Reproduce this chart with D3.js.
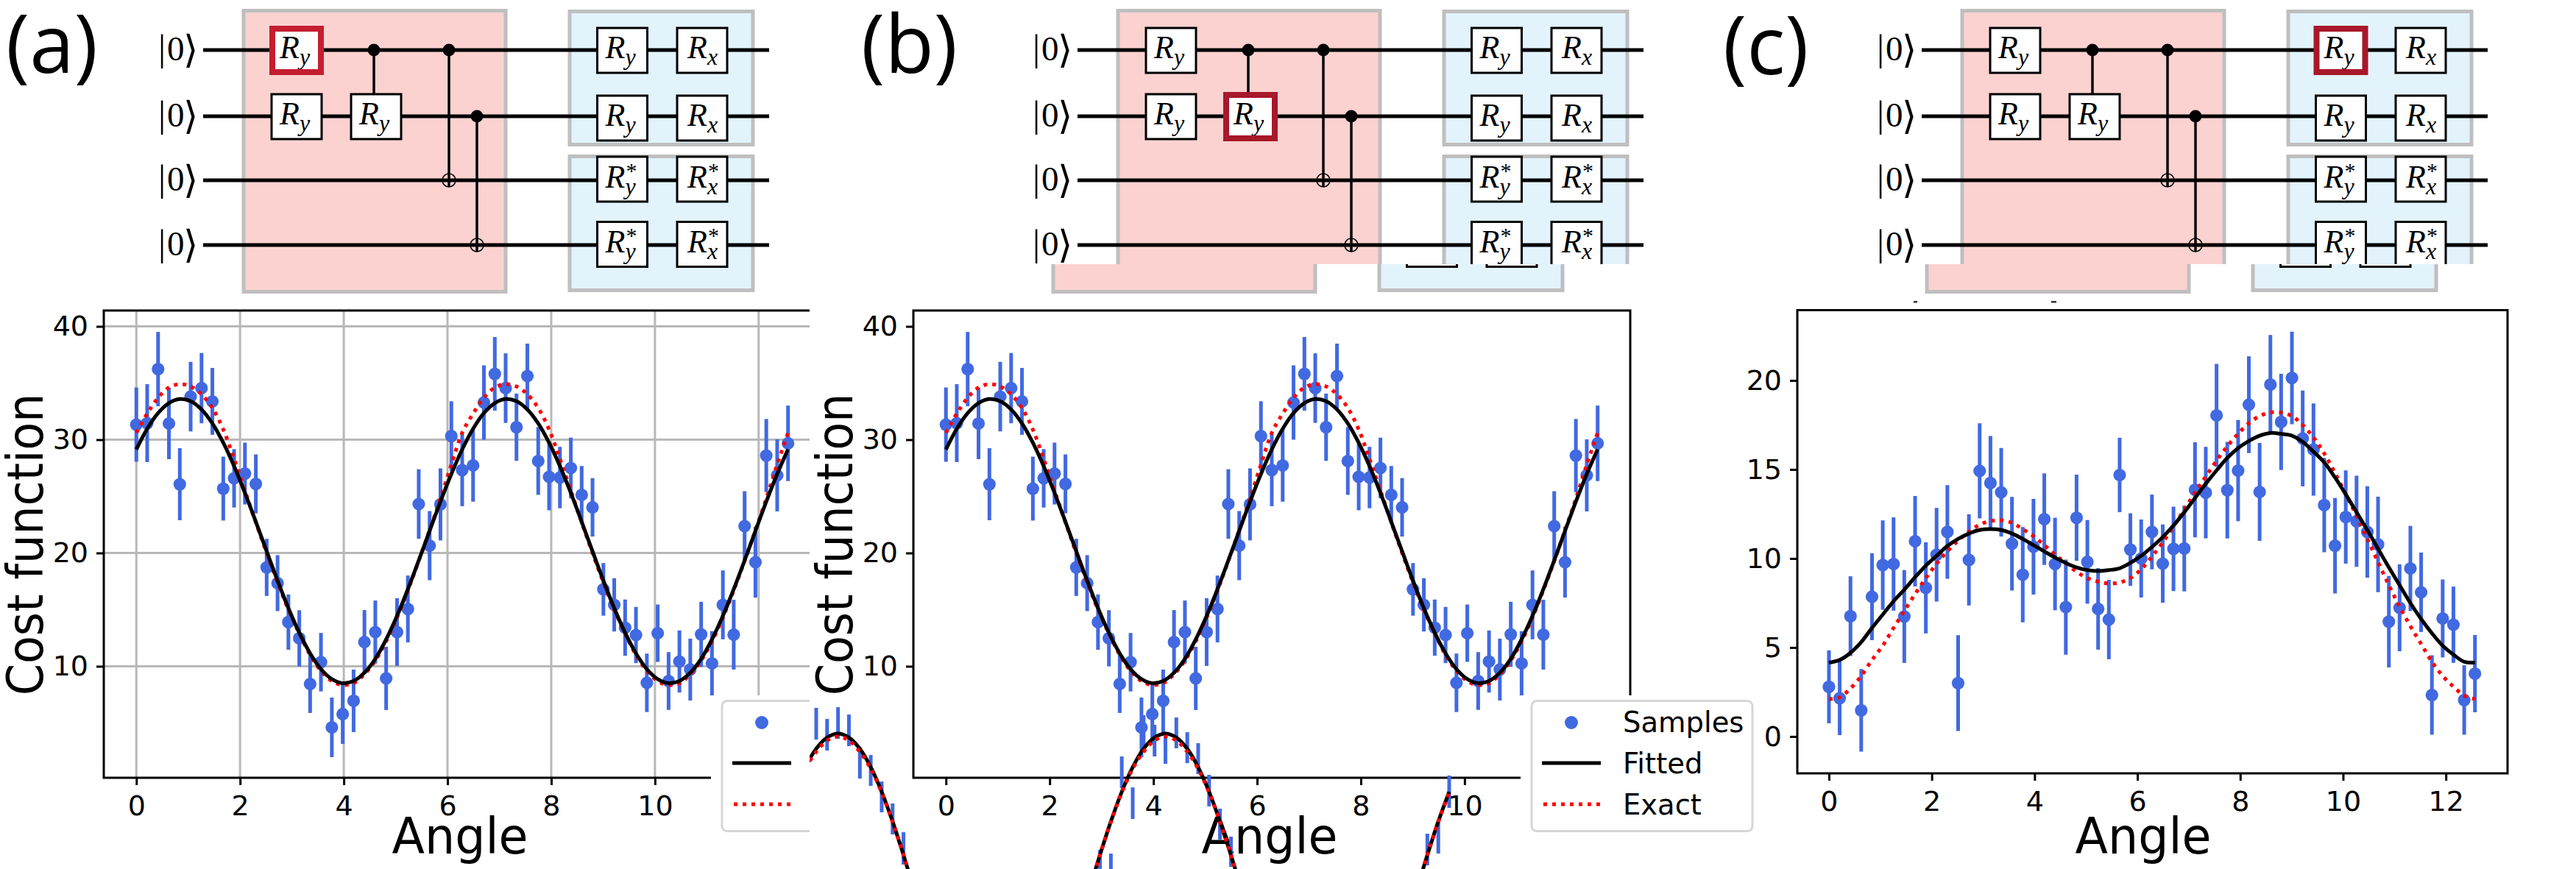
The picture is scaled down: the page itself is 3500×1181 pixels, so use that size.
<!DOCTYPE html>
<html><head><meta charset="utf-8">
<style>html,body{margin:0;padding:0;background:#fff}svg{display:block}</style>
<script src="https://cdn.jsdelivr.net/npm/d3@7/dist/d3.min.js"></script></head>
<body><svg id="c" width="3500" height="1181" xmlns="http://www.w3.org/2000/svg"></svg>
<script>
const angles=[0,0.209,0.419,0.628,0.838,1.047,1.257,1.466,1.676,1.885,2.094,2.304,2.513,2.723,2.932,3.142,3.351,3.56,3.77,3.979,4.189,4.398,4.608,4.817,5.027,5.236,5.445,5.655,5.864,6.074,6.283,6.493,6.702,6.912,7.121,7.33,7.54,7.749,7.959,8.168,8.378,8.587,8.796,9.006,9.215,9.425,9.634,9.844,10.053,10.263,10.472,10.681,10.891,11.1,11.31,11.519,11.729,11.938,12.147,12.357,12.566];
const samplesAB=[31.33,31.46,36.23,31.43,26.07,33.8,34.55,33.38,25.68,26.59,27.01,26.1,18.73,17.34,13.9,12.47,8.44,10.36,4.61,5.78,6.95,12.14,13.02,8.93,13.02,15.06,24.32,20.65,24.29,30.32,27.31,27.73,33.28,35.81,34.55,31.1,35.62,28.12,26.72,26.66,27.5,25.13,24.03,16.79,15.42,13.41,12.76,8.54,12.92,8.7,10.42,9.71,12.82,10.26,15.42,12.79,22.37,19.19,28.6,26.85,29.68];
const errorsAB=[3.28,3.44,3.28,3.15,3.18,3.07,3.1,2.95,2.82,2.58,2.73,2.6,2.52,2.47,2.44,2.48,2.56,2.58,2.63,2.63,2.76,2.82,2.78,2.79,2.99,2.95,3.07,3.05,3.18,3.07,3.18,3.2,3.28,3.25,3.07,2.97,2.86,2.99,2.95,2.71,2.68,2.55,2.58,2.32,2.35,2.48,2.48,2.58,2.53,2.55,2.74,2.73,2.87,2.84,3.04,3.08,3.08,3.13,3.23,3.18,3.33];
const fittedAB=[29.14,30.96,32.35,33.23,33.59,33.4,32.67,31.44,29.73,27.66,25.3,22.76,20.15,17.56,15.13,12.96,11.14,9.75,8.87,8.51,8.7,9.43,10.66,12.37,14.44,16.8,19.34,21.95,24.54,26.97,29.14,30.96,32.35,33.23,33.59,33.4,32.67,31.44,29.73,27.66,25.3,22.76,20.15,17.56,15.13,12.96,11.14,9.75,8.87,8.51,8.7,9.43,10.66,12.37,14.44,16.8,19.34,21.95,24.54,26.97,29.14];
const exactAB=[30.6,32.3,33.7,34.6,34.9,34.7,34,32.8,30.9,28.3,25.5,22.7,20,17.4,15,12.9,11,9.6,8.7,8.35,8.5,9.3,10.5,12.2,14.3,16.7,19.3,22,24.8,27.8,30.6,32.3,33.7,34.6,34.9,34.7,34,32.8,30.9,28.3,25.5,22.7,20,17.4,15,12.9,11,9.6,8.7,8.35,8.5,9.3,10.5,12.2,14.3,16.7,19.3,22,24.8,27.8,30.6];
const samplesC=[2.79,2.15,6.76,1.47,7.85,9.63,9.69,6.74,10.97,8.35,10.21,11.49,3,9.92,14.92,14.24,13.72,10.83,9.09,10.66,12.21,9.69,7.27,12.29,9.81,7.17,6.57,14.69,10.5,10,11.49,9.71,10.54,10.56,13.86,13.7,18.04,13.84,14.94,18.64,13.74,19.77,17.67,20.14,16.74,16.12,13,10.72,12.33,12.09,11.49,10.79,6.45,7.23,9.44,8.1,2.33,6.63,6.28,2.05,3.53];
const errorsC=[2.05,2.07,2.24,2.32,2.44,2.51,2.62,2.61,2.54,2.56,2.63,2.63,2.69,2.56,2.67,2.64,2.49,2.63,2.68,2.69,2.57,2.6,2.67,2.42,2.35,2.29,2.23,2.09,2.04,2.19,2.1,2.2,2.37,2.41,2.67,2.57,2.89,2.71,2.84,2.72,2.75,2.79,2.7,2.6,2.69,2.59,2.65,2.68,2.62,2.56,2.57,2.68,2.57,2.44,2.39,2.23,2.23,2.19,2.14,1.95,2.17];
const fittedC=[4.15,4.3,4.7,5.3,6.1,6.85,7.6,8.25,8.95,9.6,10.15,10.7,11.1,11.4,11.6,11.65,11.6,11.4,11.1,10.75,10.4,10.05,9.75,9.5,9.35,9.3,9.35,9.45,9.75,10.15,10.65,11.2,11.85,12.6,13.4,14.2,14.95,15.65,16.2,16.6,16.9,17.05,17,16.9,16.55,16,15.4,14.55,13.6,12.6,11.6,10.55,9.5,8.5,7.5,6.6,5.8,5.1,4.6,4.2,4.15];
const exactC=[2.1,2.2,2.7,3.4,4.3,5.1,6.1,7.05,8,8.9,9.7,10.4,11,11.5,11.9,12.1,12.15,12,11.65,11.25,10.75,10.2,9.75,9.25,8.9,8.7,8.6,8.65,8.9,9.4,10.1,10.9,11.8,12.75,13.7,14.6,15.5,16.3,17,17.6,18,18.2,18.2,18,17.5,16.8,15.9,14.8,13.6,12.4,11.1,9.8,8.5,7.3,6.2,5.2,4.2,3.4,2.8,2.3,2.1];
// the stray overlay seen across panel (b)
const strayFitted=[28.47,30.64,32.27,33.26,33.6,33.26,32.27,30.64,28.47,25.85,22.89,19.73,16.5,13.31,10.35,7.73,5.56,3.95,2.94,2.6,2.94,3.95,5.56,7.73,10.35,13.31,16.5,19.73,22.89,25.85,28.47,30.64,32.27,33.26,33.6,33.26,32.27,30.64,28.47,25.85,22.89,19.73,16.5,13.31,10.35,7.73,5.56,3.95,2.94,2.6,2.94,3.95,5.56,7.73,10.35,13.31,16.5,19.73,22.89,25.85,28.47];
const strayExact=[28.4,30.5,32,33,33.35,33,32,30.5,28.4,25.8,22.9,19.7,16.5,13.3,10.3,7.7,5.5,3.9,2.9,2.6,2.9,3.9,5.5,7.7,10.3,13.3,16.5,19.7,22.9,25.8,28.4,30.5,32,33,33.35,33,32,30.5,28.4,25.8,22.9,19.7,16.5,13.3,10.3,7.7,5.5,3.9,2.9,2.6,2.9,3.9,5.5,7.7,10.3,13.3,16.5,19.7,22.9,25.8,28.4];
const strayBarIndex=[2,3,4,5,6,7,8,9,10,28,29,30,31,32,33,34,35,36,37,38,39,40,58,59,60];
const strayBarTop=[35.88,34.9,35.94,35.29,32.37,31.72,29.38,27.44,24.9,23.34,23.02,31.59,28.86,35.23,34.38,33.73,35.03,33.73,32.76,29.97,26.98,24.51,24.77,25.81,29.91];
const strayBarBottom=[33.08,32.11,33.15,32.5,29.64,28.99,26.66,24.71,22.05,20.55,20.23,28.8,26.07,32.31,31.59,30.94,32.31,31,30.03,27.18,24.25,21.85,21.98,23.02,27.05];
const xTicksA=[0,2,4,6,8,10,12];
const yTicksAB=[10,20,30,40];
const yTicksC=[0,5,10,15,20];
const legendLabels=["Samples","Fitted","Exact"];
const panelLetters=["(a)","(b)","(c)"];

const BLUE="#4169e1", SANS="'DejaVu Sans'", SERIF="'Liberation Serif'";
const svg=d3.select("#c");
const defs=svg.append("defs");
function clip(id,x,y,w,h){defs.append("clipPath").attr("id",id).append("rect").attr("x",x).attr("y",y).attr("width",w).attr("height",h);}
clip("clipA",0,405,1100,776);
clip("clipB",1100,405,1300,776);
clip("clipStray",1100,930,900,251);
clip("topStrip",-100,0,1300,359);
clip("lowStrip",-100,359,1300,41);

// ---------- circuits
const wireY=[68,158,245,333];
const colX=[403,511,845.5,954];
function gate(g,cx,cy,sub,star){
  g.append("rect").attr("x",cx-34).attr("y",cy-30.5).attr("width",68).attr("height",61).attr("fill","#fff").attr("stroke","#000").attr("stroke-width",3);
  const ox=sub==="x"?-20:-23, R=star?11:10;
  const t=g.append("text").attr("x",cx+ox).attr("y",cy+R).attr("font-family",SERIF).attr("font-style","italic").attr("fill","#000");
  t.append("tspan").attr("font-size",44).text("R");
  t.append("tspan").attr("font-size",32).attr("x",cx+ox+27).attr("dy",9).text(sub);
  if(star) t.append("tspan").attr("font-size",30).attr("font-style","normal").attr("x",cx+ox+28).attr("dy",-22).text("*");
}
function circuit(g,hi){
  const box=(x,y,w,h,f)=>g.append("rect").attr("x",x).attr("y",y).attr("width",w).attr("height",h).attr("fill",f).attr("stroke","#bfbfbf").attr("stroke-width",5);
  box(331,14.5,356,382,"#fbd2d0");
  box(774,15.5,249,181,"#e2f3fc");
  box(774,212.5,249,182,"#e2f3fc");
  wireY.forEach(y=>{
    g.append("line").attr("x1",276).attr("x2",1045).attr("y1",y).attr("y2",y).attr("stroke","#000").attr("stroke-width",5);
    const k=g.append("text").attr("y",y+13.5).attr("fill","#000");
    k.append("tspan").attr("x",215).attr("font-family",SERIF).attr("font-size",51).text("|");
    k.append("tspan").attr("x",227).attr("font-family",SERIF).attr("font-size",47).text("0");
    k.append("tspan").attr("x",249).attr("font-family",SANS).attr("font-size",52).attr("dy",3).text("\u27e9");
  });
  const v=(x,a,b)=>g.append("line").attr("x1",x).attr("x2",x).attr("y1",a).attr("y2",b).attr("stroke","#000").attr("stroke-width",3.5);
  v(508,68,128); v(610,68,254); v(648,158,342);
  [[508,68],[610,68],[648,158]].forEach(([x,y])=>g.append("circle").attr("cx",x).attr("cy",y).attr("r",8.5).attr("fill","#000"));
  [[610,245],[648,333]].forEach(([x,y])=>g.append("circle").attr("cx",x).attr("cy",y).attr("r",9).attr("fill","none").attr("stroke","#000").attr("stroke-width",1.5));
  gate(g,colX[0],68.5,"y"); gate(g,colX[0],158.5,"y"); gate(g,colX[1],158.5,"y");
  gate(g,colX[2],68.5,"y"); gate(g,colX[3],68.5,"x");
  gate(g,colX[2],160.5,"y"); gate(g,colX[3],160.5,"x");
  gate(g,colX[2],243.5,"y",1); gate(g,colX[3],243.5,"x",1);
  gate(g,colX[2],332,"y",1); gate(g,colX[3],332,"x",1);
  g.append("rect").attr("x",hi[0]-33).attr("y",hi[1]-29.5).attr("width",66).attr("height",59).attr("fill","none").attr("stroke",hi[2]).attr("stroke-width",8);
}
const cA=svg.append("g"); circuit(cA,[colX[0],68.5,"#c41e30"]);
function slicedCircuit(off,shift,hi){
  const top=svg.append("g").attr("transform",`translate(${off},0)`).append("g").attr("clip-path","url(#topStrip)"); circuit(top,hi);
  const low=svg.append("g").attr("transform",`translate(${off+shift},0)`).append("g").attr("clip-path","url(#lowStrip)"); circuit(low,hi);
}
slicedCircuit(1188,-88,[colX[1],158.5,"#a8172a"]);
slicedCircuit(2335,-48,[colX[2],68.5,"#a8172a"]);

// ---------- plots
function styleAxis(ax,fs){
  ax.selectAll("path").remove();
  ax.selectAll("line").attr("stroke","#000").attr("stroke-width",3);
  ax.selectAll("text").attr("font-family",SANS).attr("font-size",fs).attr("fill","#000");
}
function plot(o){
  const g=svg.append("g"); if(o.clip) g.attr("clip-path",`url(#${o.clip})`);
  const x=d3.scaleLinear().domain(o.xd).range([o.l,o.r]);
  const y=d3.scaleLinear().domain(o.yd).range([o.b,o.t]);
  if(o.grid){
    g.selectAll("line.gx").data(o.xt).join("line").attr("x1",d=>x(d)).attr("x2",d=>x(d)).attr("y1",o.t).attr("y2",o.b).attr("stroke","#b8b8b8").attr("stroke-width",3);
    g.selectAll("line.gy").data(o.yt).join("line").attr("x1",o.l).attr("x2",o.r).attr("y1",d=>y(d)).attr("y2",d=>y(d)).attr("stroke","#b8b8b8").attr("stroke-width",3);
  }
  const d=angles.map((a,i)=>({a,v:o.s[i],e:o.e[i]}));
  g.selectAll("line.err").data(d).join("line").attr("x1",p=>x(p.a)).attr("x2",p=>x(p.a)).attr("y1",p=>y(p.v-p.e)).attr("y2",p=>y(p.v+p.e)).attr("stroke",BLUE).attr("stroke-width",5);
  g.selectAll("circle.pt").data(d).join("circle").attr("cx",p=>x(p.a)).attr("cy",p=>y(p.v)).attr("r",8.6).attr("fill",BLUE);
  const line=d3.line().x((p,i)=>x(angles[i])).y(p=>y(p)).curve(d3.curveCatmullRom);
  g.append("path").attr("d",line(o.ex)).attr("fill","none").attr("stroke","#f00").attr("stroke-width",5).attr("stroke-dasharray","5 7");
  g.append("path").attr("d",line(o.f)).attr("fill","none").attr("stroke","#000").attr("stroke-width",5);
  g.append("rect").attr("x",o.l).attr("y",o.t).attr("width",o.r-o.l).attr("height",o.b-o.t).attr("fill","none").attr("stroke","#000").attr("stroke-width",3);
  const ax=g.append("g").attr("transform",`translate(0,${o.b})`).call(d3.axisBottom(x).tickValues(o.xt).tickFormat(d3.format("d")).tickSize(10).tickPadding(14));
  styleAxis(ax,38);
  const ay=g.append("g").attr("transform",`translate(${o.l},0)`).call(d3.axisLeft(y).tickValues(o.yt).tickFormat(d3.format("d")).tickSize(10).tickPadding(11));
  styleAxis(ay,38);
  g.append("text").attr("transform",`translate(${o.angleX},1160) scale(1,1.05)`).attr("text-anchor","middle").attr("font-family",SANS).attr("font-size",65).attr("fill","#000").text("Angle");
  if(o.cost!=null) g.append("text").attr("transform",`translate(${o.cost},740) rotate(-90) scale(1,1.08)`).attr("text-anchor","middle").attr("font-family",SANS).attr("font-size",62).attr("fill","#000").text("Cost function");
  return {g,x,y};
}
const commonAB={xd:[-0.628,13.195],yd:[0.16,41.4],t:422,b:1057,xt:xTicksA,yt:yTicksAB,s:samplesAB,e:errorsAB,f:fittedAB,ex:exactAB};
function legend(g,lx){
  g.append("rect").attr("x",lx-15).attr("y",945).attr("width",316).attr("height",236).attr("fill","#fff");
  g.append("rect").attr("x",lx).attr("y",952.5).attr("width",300).attr("height",177).attr("rx",7).attr("fill","#fff").attr("stroke","#d6d6d6").attr("stroke-width",3);
  g.append("circle").attr("cx",lx+54).attr("cy",982).attr("r",9).attr("fill",BLUE);
  g.append("line").attr("x1",lx+14).attr("x2",lx+94).attr("y1",1037).attr("y2",1037).attr("stroke","#000").attr("stroke-width",5);
  g.append("line").attr("x1",lx+16).attr("x2",lx+94).attr("y1",1093).attr("y2",1093).attr("stroke","#f00").attr("stroke-width",5).attr("stroke-dasharray","5 7");
  legendLabels.forEach((t,i)=>g.append("text").attr("x",lx+124).attr("y",995+i*56).attr("font-family",SANS).attr("font-size",38.5).attr("fill","#000").text(t));
}
const pA=plot({...commonAB,l:141,r:1115,clip:"clipA",grid:true,angleX:625,cost:58});
legend(pA.g,981);
const pB=plot({...commonAB,l:1241,r:2215,clip:"clipB",grid:false,angleX:1725,cost:1158});
legend(pB.g,2081);
const pC=plot({xd:[-0.615,13.2],yd:[-2.07,23.95],t:421.5,b:1051,l:2442,r:3407,xt:xTicksA,yt:yTicksC,s:samplesC,e:errorsC,f:fittedC,ex:exactC,grid:false,angleX:2912,cost:null});
svg.append("g").selectAll("rect").data([[2600,5],[2787,7]]).join("rect").attr("x",d=>d[0]).attr("y",409).attr("width",d=>d[1]).attr("height",2.5).attr("fill","#333");

// stray overlay over panel (b)
const sx=d3.scaleLinear().domain([0,12.566]).range([1079.3,1969]);
const sy=d3.scaleLinear().domain(pB.y.domain()).range(pB.y.range().map(v=>v+455));
const sg=svg.append("g").attr("clip-path","url(#clipStray)");
sg.selectAll("line").data(strayBarIndex).join("line").attr("x1",i=>sx(angles[i])).attr("x2",i=>sx(angles[i])).attr("y1",(i,k)=>sy(strayBarTop[k])).attr("y2",(i,k)=>sy(strayBarBottom[k])).attr("stroke",BLUE).attr("stroke-width",5);
const sl=d3.line().x((p,i)=>sx(angles[i])).y(p=>sy(p)).curve(d3.curveCatmullRom);
sg.append("path").attr("d",sl(strayFitted)).attr("fill","none").attr("stroke","#000").attr("stroke-width",5);
sg.append("path").attr("d",sl(strayExact)).attr("fill","none").attr("stroke","#f00").attr("stroke-width",5).attr("stroke-dasharray","5 7");

// panel letters
[[8,98.5],[1170,98.5],[2341,101]].forEach(([x,y],i)=>svg.append("text").attr("x",x).attr("y",y).attr("font-family","'Open Sans'").attr("font-size",109).attr("fill","#000").text(panelLetters[i]));
</script></body></html>
